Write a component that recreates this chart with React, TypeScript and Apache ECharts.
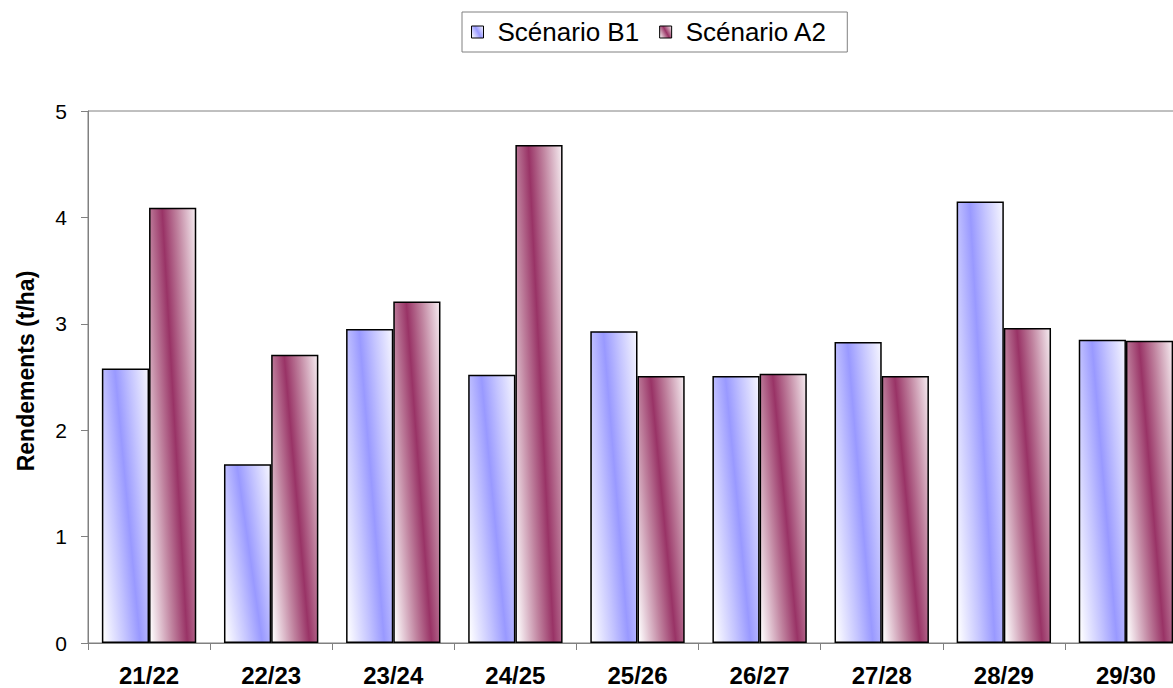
import React, { useEffect, useRef } from "react";
import * as echarts from "echarts";

const categories = ["21/22", "22/23", "23/24", "24/25", "25/26", "26/27", "27/28", "28/29", "29/30"];
const seriesNames = ["Scénario B1", "Scénario A2"];
const valuesB1 = [2.58, 1.68, 2.95, 2.52, 2.93, 2.51, 2.83, 4.15, 2.85];
const valuesA2 = [4.09, 2.71, 3.21, 4.68, 2.51, 2.53, 2.51, 2.96, 2.84];
const yTicks = { min: 0, max: 5, interval: 1 };
const axisTitle = "Rendements (t/ha)";

const FONT = "'Liberation Sans', Arial, sans-serif";

function grad(color: string, mid: string) {
  return new echarts.graphic.LinearGradient(-0.07, 0.84, 1.16, 0.16, [
    { offset: 0, color: "#ffffff" },
    { offset: 0.3, color: mid },
    { offset: 0.5, color },
    { offset: 0.7, color: mid },
    { offset: 1, color: "#ffffff" },
  ]);
}

export default function App() {
  const ref = useRef<HTMLDivElement>(null);
  useEffect(() => {
    if (!ref.current) return;
    const chart = echarts.init(ref.current, undefined, { renderer: "svg" });
    chart.setOption({
      animation: false,
      backgroundColor: "#ffffff",
      textStyle: { fontFamily: FONT },
      legend: {
        left: 462,
        top: 12,
        padding: [7, 20, 7, 9],
        borderColor: "#808080",
        borderWidth: 1,
        itemWidth: 12,
        itemHeight: 12,
        itemGap: 20,
        icon: "rect",
        itemStyle: { borderColor: "#000", borderWidth: 1 },
        textStyle: { fontSize: 26, color: "#000", fontFamily: FONT, padding: [0, 0, 0, 9] },
        data: seriesNames,
      },
      grid: {
        left: 88,
        top: 111,
        bottom: 45,
        right: -14,
        outerBoundsMode: "none",
        containLabel: false,
        show: true,
        borderColor: "#808080",
        borderWidth: 1,
        backgroundColor: "transparent",
      },
      xAxis: {
        type: "category",
        data: categories,
        axisLine: { lineStyle: { color: "#808080", width: 1 } },
        axisTick: { show: true, length: 7, lineStyle: { color: "#808080" } },
        axisLabel: {
          fontSize: 24,
          fontWeight: "bold",
          color: "#000",
          margin: 20,
          fontFamily: FONT,
        },
      },
      yAxis: {
        type: "value",
        min: yTicks.min,
        max: yTicks.max,
        interval: yTicks.interval,
        name: axisTitle,
        nameLocation: "middle",
        nameGap: 51,
        nameTextStyle: {
          fontSize: 23,
          fontWeight: "bold",
          color: "#000",
          fontFamily: FONT,
          padding: [0, 0, 0, 12],
        },
        axisLine: { show: true, lineStyle: { color: "#808080", width: 1 } },
        axisTick: { show: true, length: 7, lineStyle: { color: "#808080" } },
        splitLine: { show: false },
        axisLabel: { fontSize: 21, color: "#000", margin: 21, fontFamily: FONT },
      },
      series: [
        {
          name: seriesNames[0],
          type: "bar",
          data: valuesB1,
          barGap: "0%",
          barCategoryGap: "22.7%",
          itemStyle: { color: grad("#9999ff", "#c4c4ff"), borderColor: "#000", borderWidth: 1.5 },
        },
        {
          name: seriesNames[1],
          type: "bar",
          data: valuesA2,
          barGap: "0%",
          barCategoryGap: "22.7%",
          itemStyle: { color: grad("#993366", "#c0839f"), borderColor: "#000", borderWidth: 1.5 },
        },
      ],
    });
    return () => chart.dispose();
  }, []);
  return (
    <div
      ref={ref}
      style={{ position: "fixed", left: 0, top: 0, width: 1173, height: 688, overflow: "hidden" }}
    />
  );
}
